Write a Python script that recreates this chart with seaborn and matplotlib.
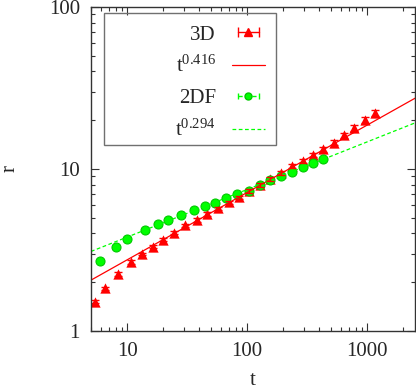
import numpy as np
import pandas as pd
import matplotlib
matplotlib.use("Agg")
import matplotlib.pyplot as plt
import seaborn as sns
from matplotlib.lines import Line2D
from matplotlib.patches import Rectangle
from matplotlib.legend_handler import HandlerLine2D, HandlerTuple
from matplotlib.ticker import LogLocator, FixedFormatter, FixedLocator, NullFormatter

# data
t_3d = [5.4, 6.6, 8.4, 10.8, 13.2, 16.3, 19.8, 24.5, 30.5, 38, 46, 56.6, 70.8, 86,
        103, 127, 155, 192, 235, 289, 355, 432, 524, 642, 783, 955, 1159]
r_3d = [1.52, 1.84, 2.25, 2.67, 2.99, 3.31, 3.66, 4.04, 4.49, 4.85, 5.28, 5.72, 6.23, 6.69,
        7.3, 7.95, 8.71, 9.49, 10.4, 11.2, 12.2, 13.2, 14.5, 16.1, 17.9, 20.1, 22.1]
err_3d = [0.03, 0.04, 0.05, 0.06, 0.06, 0.07, 0.08, 0.09, 0.1, 0.11, 0.12, 0.13, 0.15, 0.17,
          0.19, 0.21, 0.24, 0.27, 0.31, 0.35, 0.4, 0.46, 0.53, 0.62, 0.73, 0.86, 1.0]

t_2df = [5.96, 8.05, 10.0, 14.0, 18.1, 22.1, 28.2, 35.9, 44.7, 53.8, 66.4, 83.0,
         103, 127, 155, 192, 235, 289, 355, 432]
r_2df = [2.70, 3.32, 3.71, 4.20, 4.56, 4.82, 5.18, 5.56, 5.91, 6.20, 6.59, 7.01,
         7.35, 8.0, 8.51, 9.05, 9.54, 10.3, 10.9, 11.5]

# power-law fits r = A t^p
fit_3d = (1.055, 0.416)
fit_2df = (1.93, 0.294)
t_fit = [5, 2500]

sns.set_style("ticks")
plt.rcParams["font.family"] = ["Liberation Serif", "DejaVu Serif"]
plt.rcParams["mathtext.fontset"] = "stix"

RED = "#ff0000"
GREEN = "#00ff00"

fig = plt.figure(figsize=(4.16, 3.92), dpi=100)
ax = fig.add_axes([91 / 416, 61 / 392, 324 / 416, 324 / 392])
ax.set_xscale("log")
ax.set_yscale("log")

fits = pd.DataFrame({
    "t": t_fit * 2,
    "r": [fit_3d[0] * t ** fit_3d[1] for t in t_fit] + [fit_2df[0] * t ** fit_2df[1] for t in t_fit],
    "fit": ["3d"] * 2 + ["2df"] * 2,
})
sns.lineplot(data=fits[fits.fit == "3d"], x="t", y="r", color=RED, lw=0.9, ax=ax, legend=False)
sns.lineplot(data=fits[fits.fit == "2df"], x="t", y="r", color=GREEN, lw=0.9, ax=ax,
             legend=False, dashes=False)
ax.lines[-1].set_dashes([3, 2])

ax.errorbar(t_3d, r_3d, yerr=err_3d, fmt="none", ecolor=RED, elinewidth=1, capsize=3, capthick=1)
sns.scatterplot(x=t_3d, y=r_3d, marker="^", color=RED, s=55, edgecolor=RED, lw=0, ax=ax)
sns.scatterplot(x=t_2df, y=r_2df, marker="o", color=GREEN, s=42, edgecolor="#00c800",
                lw=0.8, ax=ax)

ax.set_xlim(5, 2500)
ax.set_ylim(1, 100)

ax.xaxis.set_major_locator(FixedLocator([10, 100, 1000]))
ax.xaxis.set_major_formatter(FixedFormatter(["10", "100", "1000"]))
ax.yaxis.set_major_locator(FixedLocator([1, 10, 100]))
ax.yaxis.set_major_formatter(FixedFormatter(["1", "10", "100"]))
ax.xaxis.set_minor_locator(LogLocator(base=10, subs=np.arange(2, 10), numticks=10))
ax.yaxis.set_minor_locator(LogLocator(base=10, subs=np.arange(2, 10), numticks=10))
ax.xaxis.set_minor_formatter(NullFormatter())
ax.yaxis.set_minor_formatter(NullFormatter())
ax.tick_params(which="both", direction="in", top=True, right=True, labelsize=15,
               color="#333333", width=0.8)
ax.tick_params(which="major", length=6, pad=8)
ax.tick_params(which="minor", length=3)
for s in ax.spines.values():
    s.set_visible(True)
    s.set_color("#333333")
    s.set_linewidth(1)

ax.set_xlabel("t", fontsize=15, labelpad=7)
ax.set_ylabel("r", fontsize=15, labelpad=21)

# gnuplot style legend handles: line with caps and a marker in the middle
h3_line = Line2D([], [], color=RED, lw=1, marker="|", markersize=7, markeredgewidth=1)
h3_mark = Line2D([], [], color=RED, lw=0, marker="^", markersize=6)
h3_fit = Line2D([], [], color=RED, lw=0.9)
h2_line = Line2D([], [], color=GREEN, lw=1, ls=(0, (3, 2)), marker="|", markersize=5,
                 markeredgewidth=1)
h2_mark = Line2D([], [], color=GREEN, lw=0, marker="o", markersize=5,
                 markerfacecolor=GREEN, markeredgecolor="#00c800")
h2_fit = Line2D([], [], color=GREEN, lw=0.9, ls=(0, (3, 2)))

leg = ax.legend(
    [(h3_line, h3_mark), h3_fit, (h2_line, h2_mark), h2_fit],
    ["3D", r"$\mathregular{t^{0.416}}$", "2DF", r"$\mathregular{t^{0.294}}$"],
    handler_map={h3_line: HandlerLine2D(numpoints=2), h2_line: HandlerLine2D(numpoints=2),
                 h3_mark: HandlerLine2D(numpoints=1), h2_mark: HandlerLine2D(numpoints=1),
                 tuple: HandlerTuple(ndivide=1, pad=0)},
    markerfirst=False, loc="upper right", bbox_to_anchor=((265 - 91) / 324, (331 - 25) / 324),
    fontsize=15, frameon=False,
    handlelength=1.6, handletextpad=0.75, labelspacing=0.55, borderpad=0,
    borderaxespad=0,
)
# separate frame, since the gnuplot key box is wider than its contents
ax.add_patch(Rectangle((12.5 / 324, 186.3 / 324), 172.2 / 324, 132 / 324,
                       transform=ax.transAxes, fill=False, edgecolor="#707070", lw=1,
                       zorder=5))

fig.savefig("out.png", dpi=100)
